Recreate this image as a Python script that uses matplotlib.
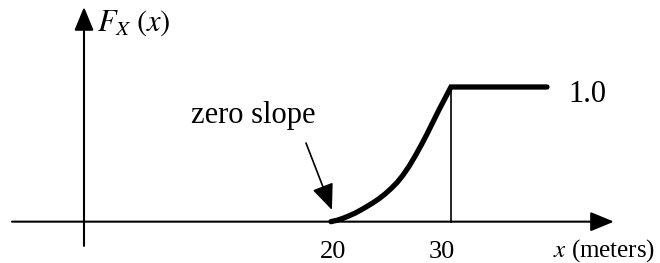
import matplotlib
matplotlib.use("Agg")
import matplotlib.pyplot as plt

plt.rcParams['font.family'] = ['Liberation Serif', 'DejaVu Serif']
plt.rcParams['mathtext.fontset'] = 'stix'

# CDF values
cdf_x = [20, 20.5, 21, 21.5, 22, 22.5, 23, 23.5, 24, 24.5, 25, 25.5,
         26, 26.5, 27, 27.5, 28, 28.5, 29, 29.5, 30, 38]
cdf_y = [0.0, 0.01, 0.025, 0.043, 0.063, 0.087, 0.113, 0.14, 0.17, 0.205,
         0.245, 0.29, 0.345, 0.41, 0.485, 0.565, 0.65, 0.74, 0.83, 0.915,
         1.0, 1.0]
tick_vals = [20, 30]
tick_labels = ["20", "30"]
top_value = 1.0

fig = plt.figure(figsize=(6.6, 2.63), dpi=100)
ax = fig.add_axes([0, 0, 1, 1])
ax.set_xlim(-7.58, 47.42)
ax.set_ylim(-0.307, 1.646)
ax.axis("off")

arrow = dict(arrowstyle="-|>,head_length=0.8,head_width=0.33", mutation_scale=18,
             color="black", lw=1.5, shrinkA=0, shrinkB=0)

# axes with arrow heads
ax.annotate("", xy=(43.58, 0), xytext=(-6.58, 0), arrowprops=arrow)
ax.annotate("", xy=(-0.58, 1.594), xytext=(-0.58, -0.18), arrowprops=arrow)

# CDF curve
ax.plot(cdf_x, cdf_y, color="black", lw=3.8, solid_capstyle="round",
        solid_joinstyle="miter")
ax.plot([30, 30], [0, top_value], color="black", lw=1.2)

# labels
ax.text(0.5, 1.416, r"$F_X\;(x)$", fontsize=22, ha="left", va="baseline")
ax.text(39.75, 0.889, f"{top_value:.1f}", fontsize=22, ha="left", va="baseline")
ax.text(38.5, -0.262, r"$x$ (meters)", fontsize=18, ha="left", va="baseline")
offsets = [0.15, -0.75]
for v, lab, off in zip(tick_vals, tick_labels, offsets):
    ax.text(v + off, -0.27, lab, fontsize=19, ha="center", va="baseline")

ax.text(8.33, 0.733, "zero slope", fontsize=22, ha="left", va="baseline")
ax.annotate("", xy=(20.08, 0.087), xytext=(17.92, 0.584),
            arrowprops=dict(arrowstyle="-|>,head_length=1.0,head_width=0.42",
                            mutation_scale=16, color="black", lw=1.2,
                            shrinkA=0, shrinkB=0))

fig.savefig("out.png", dpi=100)
